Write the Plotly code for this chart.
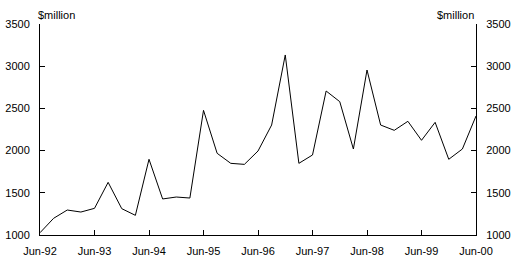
import plotly.graph_objects as go

months = ["Jun", "Sep", "Dec", "Mar"]
quarters = []
for i in range(33):
    m = months[i % 4]
    yr = 92 + (i + 2) // 4
    quarters.append(f"{m}-{yr % 100:02d}")

values = [1027, 1198, 1296, 1272, 1316, 1624, 1312, 1233,
          1897, 1427, 1450, 1438, 2477, 1968, 1849, 1837,
          1995, 2303, 3133, 1849, 1948, 2706, 2580, 2019,
          2955, 2303, 2240, 2347, 2122, 2335, 1897, 2019,
          2410]

tick_labels = ["Jun-92", "Jun-93", "Jun-94", "Jun-95", "Jun-96",
               "Jun-97", "Jun-98", "Jun-99", "Jun-00"]
y_ticks = [1000, 1500, 2000, 2500, 3000, 3500]
unit_label = "$million"

font = dict(family="Liberation Sans, Arial, sans-serif", size=11, color="black")

fig = go.Figure()
fig.add_trace(go.Scatter(x=quarters, y=values, mode="lines",
                         line=dict(color="black", width=1),
                         showlegend=False, hoverinfo="skip"))
fig.add_trace(go.Scatter(x=quarters, y=values, mode="lines", yaxis="y2",
                         line=dict(color="rgba(0,0,0,0)", width=0),
                         showlegend=False, hoverinfo="skip"))

axis_common = dict(showline=True, linecolor="black", linewidth=1,
                   ticks="inside", ticklen=5, tickcolor="black", tickwidth=1,
                   showgrid=False, zeroline=False, tickfont=font,
                   automargin=False)

fig.update_layout(
    width=515, height=264,
    margin=dict(l=40, r=39, t=24, b=29),
    paper_bgcolor="white", plot_bgcolor="white",
    xaxis=dict(type="category", range=[0, 32],
               tickvals=tick_labels, ticktext=tick_labels,
               ticklabelstandoff=6, **axis_common),
    yaxis=dict(range=[1000, 3500], tickvals=y_ticks, ticklabelstandoff=7,
               **axis_common),
    yaxis2=dict(range=[1000, 3500], tickvals=y_ticks, overlaying="y",
                side="right", ticklabelstandoff=7, **axis_common),
    annotations=[
        dict(text=unit_label, xref="paper", yref="paper", x=0, y=1,
             xanchor="left", yanchor="bottom", xshift=-4, yshift=1,
             showarrow=False, font=font),
        dict(text=unit_label, xref="paper", yref="paper", x=1, y=1,
             xanchor="right", yanchor="bottom", xshift=0, yshift=1,
             showarrow=False, font=font),
    ],
)

fig.write_html("out.html")
